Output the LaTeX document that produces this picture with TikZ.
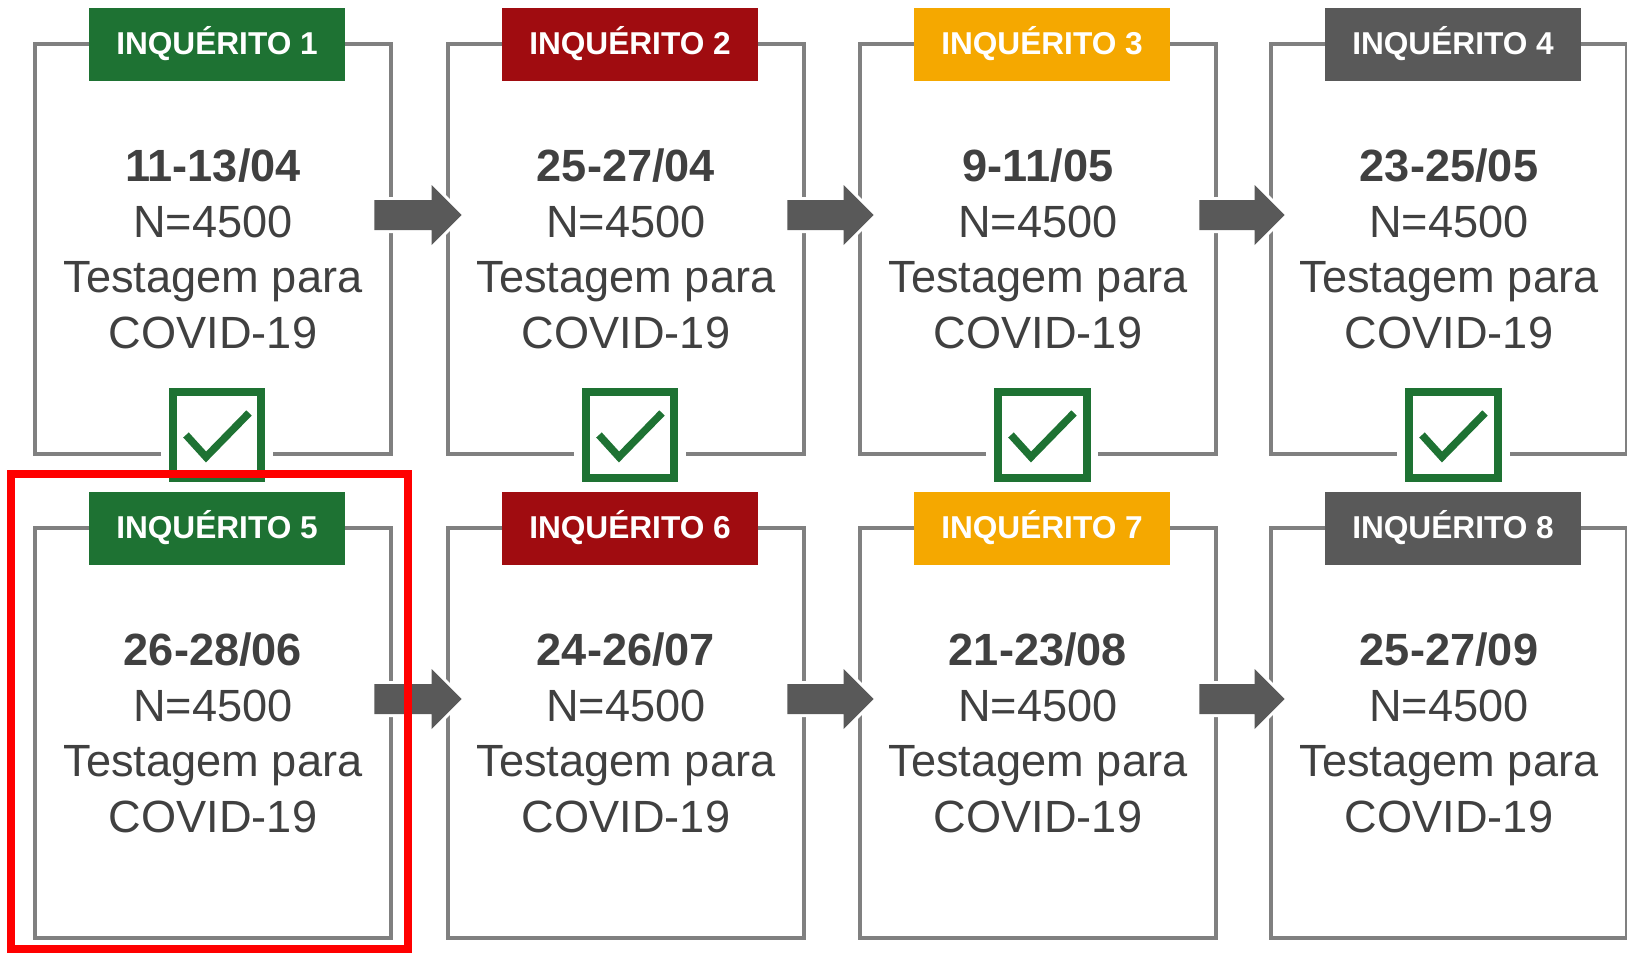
\documentclass[tikz,border=0pt]{standalone}
\usepackage{fontspec}
\setmainfont{Liberation Sans}

\definecolor{verde}{HTML}{1E7233}
\definecolor{vermelho}{HTML}{A00C10}
\definecolor{laranja}{HTML}{F5A800}
\definecolor{cinza}{HTML}{595959}
\definecolor{moldura}{HTML}{808080}
\definecolor{texto}{HTML}{404040}

\tikzset{
  caixa/.style={draw=moldura, line width=0.08cm, outer sep=0pt,
    minimum width=7.14cm, minimum height=8.2cm, align=center, text=texto,
    font=\fontsize{25.7}{31.6}\selectfont},
  titulo/.style={fill=#1, text=white, minimum width=5.12cm, minimum height=1.46cm,
    font=\fontsize{18}{20}\selectfont\bfseries},
  visto/.style={draw=verde, line width=0.16cm, fill=white,
    minimum width=1.78cm, minimum height=1.72cm,
    preaction={draw=white, line width=0.48cm}},
  marca/.style={draw=verde, line width=0.15cm},
  seta/.style={fill=cinza, preaction={draw=white, line width=0.12cm}},
  destaque/.style={draw=red, line width=0.16cm}
}

\def\teste{N=4500\\Testagem para\\COVID-19}

\begin{document}
\begin{tikzpicture}[x=0.02cm, y=-0.02cm]
\useasboundingbox (0,0) rectangle (1627,954);

% primeira fila
\node[caixa] (b1) at (213,249) {\textbf{11-13/04}\\\teste};
\node[caixa] (b2) at (626,249) {\textbf{25-27/04}\\\teste};
\node[caixa] (b3) at (1038,249) {\textbf{9-11/05}\\\teste};
\node[caixa] (b4) at (1449,249) {\textbf{23-25/05}\\\teste};

% segunda fila
\node[caixa] (b5) at (213,733) {\textbf{26-28/06}\\\teste};
\node[caixa] (b6) at (626,733) {\textbf{24-26/07}\\\teste};
\node[caixa] (b7) at (1038,733) {\textbf{21-23/08}\\\teste};
\node[caixa] (b8) at (1449,733) {\textbf{25-27/09}\\\teste};

% titulos
\node[titulo=verde] (t1) at ([shift={(4,0)}]b1.north) {INQUÉRITO 1};
\node[titulo=vermelho] (t2) at ([shift={(4,0)}]b2.north) {INQUÉRITO 2};
\node[titulo=laranja] (t3) at ([shift={(4,0)}]b3.north) {INQUÉRITO 3};
\node[titulo=cinza] (t4) at ([shift={(4,0)}]b4.north) {INQUÉRITO 4};
\node[titulo=verde] (t5) at ([shift={(4,0)}]b5.north) {INQUÉRITO 5};
\node[titulo=vermelho] (t6) at ([shift={(4,0)}]b6.north) {INQUÉRITO 6};
\node[titulo=laranja] (t7) at ([shift={(4,0)}]b7.north) {INQUÉRITO 7};
\node[titulo=cinza] (t8) at ([shift={(4,0)}]b8.north) {INQUÉRITO 8};

% vistos
\node[visto] (v1) at ([shift={(4,-19)}]b1.south) {};
\node[visto] (v2) at ([shift={(4,-19)}]b2.south) {};
\node[visto] (v3) at ([shift={(4,-19)}]b3.south) {};
\node[visto] (v4) at ([shift={(4,-19)}]b4.south) {};
\draw[marca] ([shift={(-31,0)}]v1.center) -- ([shift={(-11,22)}]v1.center) -- ([shift={(32,-22)}]v1.center);
\draw[marca] ([shift={(-31,0)}]v2.center) -- ([shift={(-11,22)}]v2.center) -- ([shift={(32,-22)}]v2.center);
\draw[marca] ([shift={(-31,0)}]v3.center) -- ([shift={(-11,22)}]v3.center) -- ([shift={(32,-22)}]v3.center);
\draw[marca] ([shift={(-31,0)}]v4.center) -- ([shift={(-11,22)}]v4.center) -- ([shift={(32,-22)}]v4.center);

% setas
\newcommand{\seta}[2]{%
  \path[seta] ([shift={(-17,-49)}]#1.east) -- ([shift={(-16,-49)}]#2.west)
    -- ([shift={(-16,-64)}]#2.west) -- ([shift={(14,-34)}]#2.west)
    -- ([shift={(-16,-4)}]#2.west) -- ([shift={(-16,-19)}]#2.west)
    -- ([shift={(-17,-19)}]#1.east) -- cycle;}
\seta{b1}{b2}
\seta{b2}{b3}
\seta{b3}{b4}
\seta{b5}{b6}
\seta{b6}{b7}
\seta{b7}{b8}

\draw[destaque] ([shift={(-24,-54.5)}]b5.north west) rectangle ([shift={(16.5,11)}]b5.south east);
\end{tikzpicture}
\end{document}
